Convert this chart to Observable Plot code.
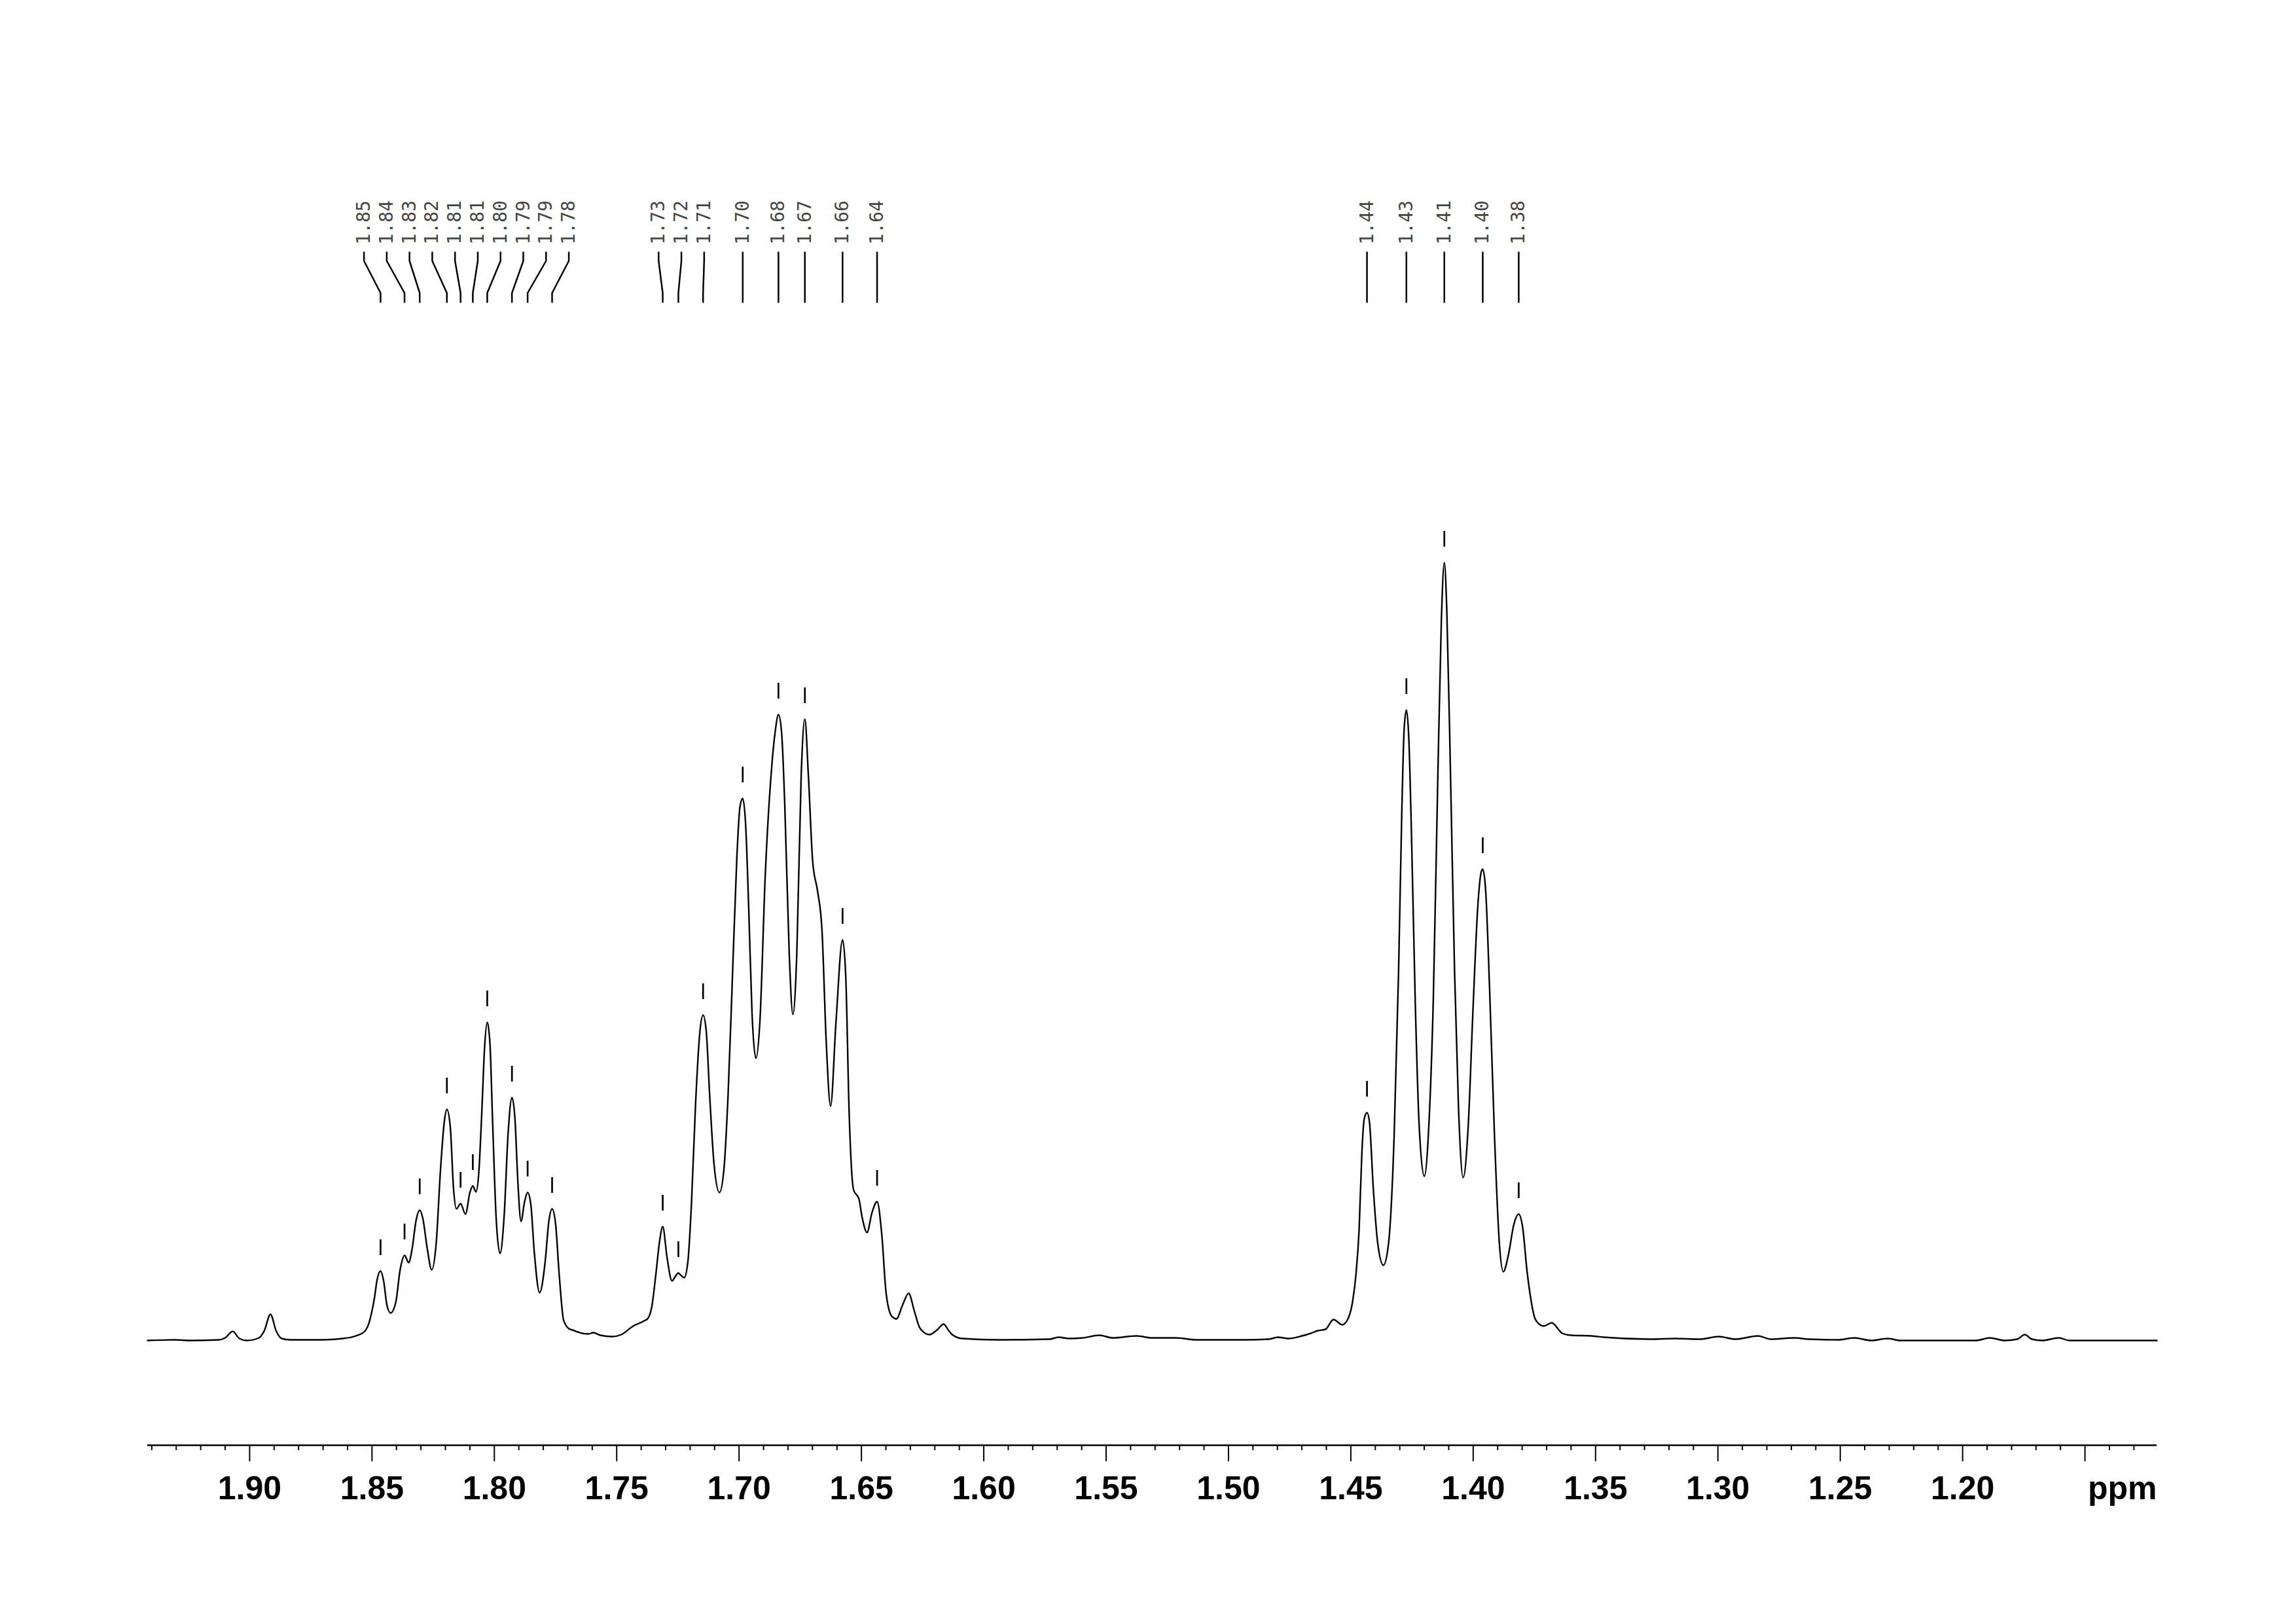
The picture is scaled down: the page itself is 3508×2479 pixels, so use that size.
<!DOCTYPE html>
<html>
<head>
<meta charset="utf-8">
<script src="https://cdn.jsdelivr.net/npm/d3@7"></script>
<script src="https://cdn.jsdelivr.net/npm/@observablehq/plot@0.6"></script>
<style>
  html, body { margin: 0; padding: 0; background: #fff; }
  #chart svg { display: block; }
</style>
</head>
<body>
<div id="chart"></div>
<script>
// ---- Spectrum trace (chemical shift in ppm, intensity) ----
const specPpm = [
  1.9417, 1.9305, 1.9243, 1.9127, 1.9100, 1.9069, 1.9042, 1.9011, 1.8962, 1.8940,
  1.8915, 1.8891, 1.8869, 1.8833, 1.8708, 1.8619, 1.8566, 1.8530, 1.8513, 1.8499,
  1.8490, 1.8479, 1.8465, 1.8452, 1.8439, 1.8424, 1.8403, 1.8385, 1.8367, 1.8350,
  1.8336, 1.8320, 1.8305, 1.8292, 1.8274, 1.8256, 1.8238, 1.8220, 1.8204, 1.8194,
  1.8180, 1.8167, 1.8155, 1.8138, 1.8118, 1.8100, 1.8088, 1.8075, 1.8064, 1.8051,
  1.8040, 1.8029, 1.8018, 1.8007, 1.7993, 1.7977, 1.7960, 1.7944, 1.7928, 1.7916,
  1.7904, 1.7891, 1.7877, 1.7864, 1.7851, 1.7837, 1.7815, 1.7793, 1.7777, 1.7764,
  1.7750, 1.7735, 1.7717, 1.7695, 1.7680, 1.7659, 1.7641, 1.7615, 1.7596, 1.7567,
  1.7518, 1.7481, 1.7433, 1.7388, 1.7372, 1.7356, 1.7340, 1.7325, 1.7312, 1.7294,
  1.7274, 1.7262, 1.7248, 1.7236, 1.7224, 1.7209, 1.7195, 1.7178, 1.7160, 1.7147,
  1.7134, 1.7120, 1.7102, 1.7080, 1.7062, 1.7045, 1.7027, 1.7009, 1.6996, 1.6985,
  1.6973, 1.6960, 1.6947, 1.6931, 1.6915, 1.6893, 1.6866, 1.6853, 1.6839, 1.6826,
  1.6813, 1.6795, 1.6780, 1.6764, 1.6746, 1.6731, 1.6717, 1.6699, 1.6679, 1.6661,
  1.6644, 1.6626, 1.6604, 1.6577, 1.6564, 1.6550, 1.6532, 1.6510, 1.6497, 1.6477,
  1.6457, 1.6436, 1.6417, 1.6399, 1.6376, 1.6357, 1.6332, 1.6307, 1.6283, 1.6261,
  1.6222, 1.6191, 1.6164, 1.6145, 1.6129, 1.6087, 1.5927, 1.5731, 1.5694, 1.5651,
  1.5596, 1.5528, 1.5473, 1.5375, 1.5313, 1.5215, 1.5129, 1.4933, 1.4835, 1.4798,
  1.4755, 1.4700, 1.4663, 1.4635, 1.4604, 1.4571, 1.4535, 1.4516, 1.4493, 1.4479,
  1.4466, 1.4455, 1.4445, 1.4434, 1.4424, 1.4408, 1.4390, 1.4367, 1.4346, 1.4323,
  1.4305, 1.4292, 1.4282, 1.4273, 1.4263, 1.4252, 1.4237, 1.4221, 1.4200, 1.4181,
  1.4163, 1.4145, 1.4130, 1.4118, 1.4108, 1.4092, 1.4076, 1.4060, 1.4041, 1.4020,
  1.4001, 1.3980, 1.3967, 1.3961, 1.3949, 1.3933, 1.3913, 1.3893, 1.3877, 1.3856,
  1.3834, 1.3814, 1.3798, 1.3780, 1.3766, 1.3748, 1.3730, 1.3712, 1.3679, 1.3636,
  1.3600, 1.3516, 1.3465, 1.3278, 1.3175, 1.3073, 1.2997, 1.2928, 1.2837, 1.2783,
  1.2689, 1.2630, 1.2510, 1.2442, 1.2374, 1.2306, 1.2254, 1.1947, 1.1888, 1.1828,
  1.1777, 1.1746, 1.1717, 1.1675, 1.1607, 1.1564, 1.1206
];
const specInt = [
  -1, 0, -1, 0, 3, 13, 2, -1, 3, 14,
  39, 13, 2, 0, 0, 2, 6, 13, 25, 46,
  64, 92, 105, 89, 53, 41, 57, 107, 129, 118,
  139, 182, 198, 185, 139, 107, 146, 260, 335, 352,
  325, 232, 200, 208, 192, 225, 235, 226, 253, 350,
  446, 485, 453, 332, 189, 132, 189, 314, 370, 339,
  242, 181, 210, 225, 207, 135, 72, 117, 182, 200,
  178, 100, 30, 17, 15, 12, 10, 9, 11, 7,
  5, 8, 21, 29, 33, 52, 100, 150, 173, 125,
  90, 96, 102, 98, 95, 120, 204, 358, 471, 496,
  471, 373, 267, 225, 260, 373, 555, 737, 815, 827,
  786, 653, 499, 430, 485, 709, 878, 927, 955, 927,
  815, 590, 497, 590, 864, 948, 864, 730, 685, 625,
  457, 357, 485, 611, 555, 345, 229, 215, 187, 164,
  194, 211, 162, 71, 36, 32, 53, 71, 43, 18,
  8, 15, 24, 15, 8, 2, 0, 1, 4, 2,
  3, 7, 3, 6, 3, 3, 0, 0, 1, 4,
  2, 6, 10, 14, 16, 31, 23, 29, 58, 100,
  170, 285, 338, 347, 333, 230, 147, 114, 147, 312,
  561, 802, 934, 962, 918, 769, 520, 329, 250, 329,
  520, 851, 1100, 1187, 1117, 851, 561, 354, 248, 329,
  503, 669, 715, 719, 686, 536, 312, 147, 104, 130,
  176, 192, 172, 105, 66, 33, 24, 21, 26, 10,
  7, 6, 4, 1, 2, 1, 5, 1, 6, 1,
  3, 1, 0, 3, -1, 2, -1, -1, 3, -1,
  1, 8, 1, -1, 3, -1, -1
];

// ---- Picked peaks ----
const peakPpm = [
  1.8465, 1.8367, 1.8305, 1.8194, 1.8138, 1.8088, 1.8029, 1.7928, 1.7864, 1.7764,
  1.7312, 1.7248, 1.7147, 1.6985, 1.6839, 1.6731, 1.6577, 1.6436,
  1.4434, 1.4273, 1.4118, 1.3961, 1.3814
];
const peakLabels = [
  "1.85", "1.84", "1.83", "1.82", "1.81", "1.81", "1.80", "1.79", "1.79", "1.78",
  "1.73", "1.72", "1.71", "1.70", "1.68", "1.67", "1.66", "1.64",
  "1.44", "1.43", "1.41", "1.40", "1.38"
];
const peakHeight = [
  105, 129, 198, 352, 208, 235, 485, 370, 225, 200,
  173, 102, 496, 827, 955, 948, 611, 211,
  347, 962, 1187, 719, 192
];

// ---- Axis ----
const tickLabels = ["1.90", "1.85", "1.80", "1.75", "1.70", "1.65", "1.60", "1.55",
                    "1.50", "1.45", "1.40", "1.35", "1.30", "1.25", "1.20"];
const unlabeledMajor = [1.15];
const axisUnit = "ppm";

// ---------------------------------------------------------------
const spectrum = specPpm.map((p, i) => ({ppm: p, int: specInt[i]}));

// label de-cluttering: evenly spaced groups centred on the mean of their peaks
function spreadLabels(ppms, gap) {
  let clusters = ppms.map((p, i) => ({start: i, n: 1, sum: p}));
  let changed = true;
  while (changed) {
    changed = false;
    for (let k = 0; k < clusters.length - 1; k++) {
      const a = clusters[k], b = clusters[k + 1];
      const aLast = a.sum / a.n - (a.n - 1) / 2 * gap;
      const bFirst = b.sum / b.n + (b.n - 1) / 2 * gap;
      if (aLast - bFirst < gap) {
        clusters.splice(k, 2, {start: a.start, n: a.n + b.n, sum: a.sum + b.sum});
        changed = true;
        break;
      }
    }
  }
  const out = [];
  for (const c of clusters) {
    const center = c.sum / c.n;
    for (let j = 0; j < c.n; j++) out.push(center + ((c.n - 1) / 2 - j) * gap);
  }
  return out;
}
const labelPpm = spreadLabels(peakPpm, 0.0093);

const peaks = peakPpm.map((p, i) => ({ppm: p, lab: labelPpm[i], text: peakLabels[i], h: peakHeight[i]}));
const connectors = peaks.flatMap((d, i) => [
  {id: i, x: d.lab, y: 1661},
  {id: i, x: d.lab, y: 1648},
  {id: i, x: d.ppm, y: 1599},
  {id: i, x: d.ppm, y: 1585}
]);

const majorTicks = tickLabels.map(Number).concat(unlabeledMajor);
const minorTicks = d3.range(113, 195).map(i => i / 100).filter(v => Math.round(v * 100) % 5 !== 0);

const axisFont = "'Liberation Sans', Arial, Helvetica, sans-serif";

const chart = Plot.plot({
  width: 3508,
  height: 2479,
  marginLeft: 225,
  marginRight: 213,
  marginTop: 100,
  marginBottom: 272,
  style: {background: "#fff", fontFamily: axisFont, overflow: "visible"},
  x: {domain: [1.9417, 1.1206], axis: null},
  y: {domain: [-161, 1946], axis: null},
  marks: [
    Plot.ruleY([-161], {stroke: "#000", strokeWidth: 2.5}),
    Plot.axisX(minorTicks, {tickSize: 8, strokeWidth: 2, tickFormat: () => "", label: null}),
    Plot.axisX(majorTicks, {
      tickSize: 25, tickPadding: 22, strokeWidth: 2,
      tickFormat: d => tickLabels.includes(d.toFixed(2)) ? d.toFixed(2) : "",
      fontSize: 50, fontWeight: "bold", fontFamily: axisFont, label: null
    }),
    Plot.text([axisUnit], {
      frameAnchor: "bottom-right", dy: 47, lineAnchor: "top", textAnchor: "end",
      fontSize: 50, fontWeight: "bold", fontFamily: axisFont, fill: "#000"
    }),
    Plot.line(spectrum, {x: "ppm", y: "int", curve: "monotone-x", stroke: "#000", strokeWidth: 2.4}),
    Plot.ruleX(peaks, {x: "ppm", y1: d => d.h + 24, y2: d => d.h + 48, stroke: "#000", strokeWidth: 2.7}),
    Plot.line(connectors, {x: "x", y: "y", z: "id", stroke: "#000", strokeWidth: 2.5, curve: "linear"}),
    Plot.text(peaks, {
      x: "lab", y: 1673, text: "text", rotate: -90,
      textAnchor: "start", lineAnchor: "middle",
      fontSize: 28, fontFamily: "'DejaVu Sans Mono', 'Liberation Mono', monospace",
      fill: "#444", ariaLabel: "peak labels"
    })
  ]
});

d3.select(chart).selectAll('g[aria-label="peak labels"] text').style("letter-spacing", "3.5px");
document.getElementById("chart").appendChild(chart);
</script>
</body>
</html>
